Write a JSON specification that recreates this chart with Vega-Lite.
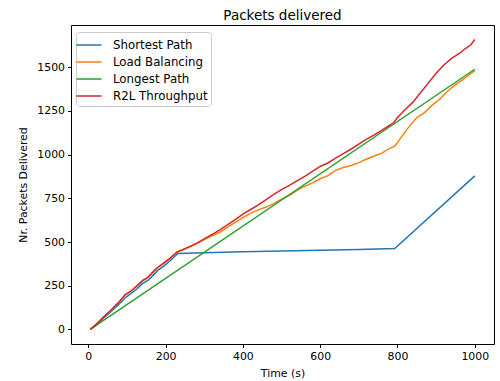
{
  "$schema": "https://vega.github.io/schema/vega-lite/v6.json",
  "autosize": "none",
  "width": 423,
  "height": 319,
  "padding": {"left": 71, "top": 25, "right": 6, "bottom": 37},
  "background": "white",
  "title": {"text": "Packets delivered", "fontSize": 13.5, "font": "DejaVu Sans", "fontWeight": "normal", "color": "black", "offset": 3},
  "data": {"values": [
    {"t": 5, "v": 0, "s": "Shortest Path"},
    {"t": 20, "v": 24, "s": "Shortest Path"},
    {"t": 40, "v": 66, "s": "Shortest Path"},
    {"t": 60, "v": 104, "s": "Shortest Path"},
    {"t": 80, "v": 146, "s": "Shortest Path"},
    {"t": 95, "v": 180, "s": "Shortest Path"},
    {"t": 110, "v": 205, "s": "Shortest Path"},
    {"t": 125, "v": 230, "s": "Shortest Path"},
    {"t": 140, "v": 262, "s": "Shortest Path"},
    {"t": 155, "v": 282, "s": "Shortest Path"},
    {"t": 170, "v": 315, "s": "Shortest Path"},
    {"t": 180, "v": 338, "s": "Shortest Path"},
    {"t": 195, "v": 362, "s": "Shortest Path"},
    {"t": 210, "v": 390, "s": "Shortest Path"},
    {"t": 232, "v": 435, "s": "Shortest Path"},
    {"t": 300, "v": 439, "s": "Shortest Path"},
    {"t": 400, "v": 444, "s": "Shortest Path"},
    {"t": 500, "v": 449, "s": "Shortest Path"},
    {"t": 600, "v": 453, "s": "Shortest Path"},
    {"t": 700, "v": 458, "s": "Shortest Path"},
    {"t": 793, "v": 463, "s": "Shortest Path"},
    {"t": 1000, "v": 878, "s": "Shortest Path"},
    {"t": 5, "v": 0, "s": "Load Balancing"},
    {"t": 20, "v": 28, "s": "Load Balancing"},
    {"t": 40, "v": 71, "s": "Load Balancing"},
    {"t": 60, "v": 112, "s": "Load Balancing"},
    {"t": 80, "v": 157, "s": "Load Balancing"},
    {"t": 95, "v": 196, "s": "Load Balancing"},
    {"t": 110, "v": 218, "s": "Load Balancing"},
    {"t": 125, "v": 246, "s": "Load Balancing"},
    {"t": 140, "v": 277, "s": "Load Balancing"},
    {"t": 155, "v": 298, "s": "Load Balancing"},
    {"t": 170, "v": 333, "s": "Load Balancing"},
    {"t": 180, "v": 354, "s": "Load Balancing"},
    {"t": 195, "v": 378, "s": "Load Balancing"},
    {"t": 210, "v": 403, "s": "Load Balancing"},
    {"t": 230, "v": 442, "s": "Load Balancing"},
    {"t": 250, "v": 460, "s": "Load Balancing"},
    {"t": 265, "v": 475, "s": "Load Balancing"},
    {"t": 280, "v": 490, "s": "Load Balancing"},
    {"t": 300, "v": 514, "s": "Load Balancing"},
    {"t": 320, "v": 535, "s": "Load Balancing"},
    {"t": 340, "v": 556, "s": "Load Balancing"},
    {"t": 360, "v": 584, "s": "Load Balancing"},
    {"t": 380, "v": 612, "s": "Load Balancing"},
    {"t": 400, "v": 640, "s": "Load Balancing"},
    {"t": 420, "v": 665, "s": "Load Balancing"},
    {"t": 440, "v": 684, "s": "Load Balancing"},
    {"t": 460, "v": 700, "s": "Load Balancing"},
    {"t": 480, "v": 720, "s": "Load Balancing"},
    {"t": 500, "v": 745, "s": "Load Balancing"},
    {"t": 520, "v": 766, "s": "Load Balancing"},
    {"t": 540, "v": 795, "s": "Load Balancing"},
    {"t": 560, "v": 818, "s": "Load Balancing"},
    {"t": 580, "v": 838, "s": "Load Balancing"},
    {"t": 600, "v": 862, "s": "Load Balancing"},
    {"t": 620, "v": 880, "s": "Load Balancing"},
    {"t": 640, "v": 910, "s": "Load Balancing"},
    {"t": 660, "v": 926, "s": "Load Balancing"},
    {"t": 680, "v": 938, "s": "Load Balancing"},
    {"t": 700, "v": 954, "s": "Load Balancing"},
    {"t": 720, "v": 975, "s": "Load Balancing"},
    {"t": 740, "v": 992, "s": "Load Balancing"},
    {"t": 760, "v": 1008, "s": "Load Balancing"},
    {"t": 775, "v": 1030, "s": "Load Balancing"},
    {"t": 793, "v": 1048, "s": "Load Balancing"},
    {"t": 810, "v": 1100, "s": "Load Balancing"},
    {"t": 830, "v": 1160, "s": "Load Balancing"},
    {"t": 850, "v": 1212, "s": "Load Balancing"},
    {"t": 870, "v": 1240, "s": "Load Balancing"},
    {"t": 890, "v": 1283, "s": "Load Balancing"},
    {"t": 910, "v": 1318, "s": "Load Balancing"},
    {"t": 930, "v": 1364, "s": "Load Balancing"},
    {"t": 950, "v": 1400, "s": "Load Balancing"},
    {"t": 970, "v": 1430, "s": "Load Balancing"},
    {"t": 985, "v": 1455, "s": "Load Balancing"},
    {"t": 1000, "v": 1480, "s": "Load Balancing"},
    {"t": 5, "v": 0, "s": "Longest Path"},
    {"t": 1000, "v": 1488, "s": "Longest Path"},
    {"t": 5, "v": 0, "s": "R2L Throughput"},
    {"t": 20, "v": 29, "s": "R2L Throughput"},
    {"t": 40, "v": 72, "s": "R2L Throughput"},
    {"t": 60, "v": 114, "s": "R2L Throughput"},
    {"t": 80, "v": 159, "s": "R2L Throughput"},
    {"t": 95, "v": 198, "s": "R2L Throughput"},
    {"t": 110, "v": 220, "s": "R2L Throughput"},
    {"t": 125, "v": 248, "s": "R2L Throughput"},
    {"t": 140, "v": 279, "s": "R2L Throughput"},
    {"t": 155, "v": 300, "s": "R2L Throughput"},
    {"t": 170, "v": 335, "s": "R2L Throughput"},
    {"t": 180, "v": 356, "s": "R2L Throughput"},
    {"t": 195, "v": 380, "s": "R2L Throughput"},
    {"t": 210, "v": 405, "s": "R2L Throughput"},
    {"t": 230, "v": 444, "s": "R2L Throughput"},
    {"t": 250, "v": 462, "s": "R2L Throughput"},
    {"t": 265, "v": 477, "s": "R2L Throughput"},
    {"t": 280, "v": 492, "s": "R2L Throughput"},
    {"t": 300, "v": 518, "s": "R2L Throughput"},
    {"t": 320, "v": 543, "s": "R2L Throughput"},
    {"t": 340, "v": 570, "s": "R2L Throughput"},
    {"t": 360, "v": 598, "s": "R2L Throughput"},
    {"t": 380, "v": 628, "s": "R2L Throughput"},
    {"t": 400, "v": 660, "s": "R2L Throughput"},
    {"t": 420, "v": 686, "s": "R2L Throughput"},
    {"t": 440, "v": 712, "s": "R2L Throughput"},
    {"t": 460, "v": 742, "s": "R2L Throughput"},
    {"t": 480, "v": 772, "s": "R2L Throughput"},
    {"t": 500, "v": 800, "s": "R2L Throughput"},
    {"t": 520, "v": 824, "s": "R2L Throughput"},
    {"t": 540, "v": 850, "s": "R2L Throughput"},
    {"t": 560, "v": 876, "s": "R2L Throughput"},
    {"t": 580, "v": 904, "s": "R2L Throughput"},
    {"t": 600, "v": 932, "s": "R2L Throughput"},
    {"t": 620, "v": 952, "s": "R2L Throughput"},
    {"t": 640, "v": 980, "s": "R2L Throughput"},
    {"t": 660, "v": 1006, "s": "R2L Throughput"},
    {"t": 680, "v": 1032, "s": "R2L Throughput"},
    {"t": 700, "v": 1060, "s": "R2L Throughput"},
    {"t": 720, "v": 1088, "s": "R2L Throughput"},
    {"t": 740, "v": 1113, "s": "R2L Throughput"},
    {"t": 760, "v": 1140, "s": "R2L Throughput"},
    {"t": 780, "v": 1168, "s": "R2L Throughput"},
    {"t": 790, "v": 1182, "s": "R2L Throughput"},
    {"t": 800, "v": 1212, "s": "R2L Throughput"},
    {"t": 820, "v": 1258, "s": "R2L Throughput"},
    {"t": 840, "v": 1300, "s": "R2L Throughput"},
    {"t": 860, "v": 1355, "s": "R2L Throughput"},
    {"t": 880, "v": 1410, "s": "R2L Throughput"},
    {"t": 900, "v": 1465, "s": "R2L Throughput"},
    {"t": 920, "v": 1512, "s": "R2L Throughput"},
    {"t": 940, "v": 1550, "s": "R2L Throughput"},
    {"t": 960, "v": 1578, "s": "R2L Throughput"},
    {"t": 975, "v": 1605, "s": "R2L Throughput"},
    {"t": 990, "v": 1628, "s": "R2L Throughput"},
    {"t": 1000, "v": 1658, "s": "R2L Throughput"}
  ]},
  "mark": {"type": "line", "strokeWidth": 1.5, "clip": true},
  "encoding": {
    "x": {"field": "t", "type": "quantitative", "title": "Time (s)",
      "scale": {"domain": [-44.75, 1049.75], "nice": false, "zero": false},
      "axis": {"values": [0, 200, 400, 600, 800, 1000], "format": "d"}},
    "y": {"field": "v", "type": "quantitative", "title": "Nr. Packets Delivered",
      "scale": {"domain": [-83, 1741], "nice": false, "zero": false},
      "axis": {"values": [0, 250, 500, 750, 1000, 1250, 1500], "format": "d"}},
    "color": {"field": "s", "type": "nominal",
      "scale": {"domain": ["Shortest Path", "Load Balancing", "Longest Path", "R2L Throughput"],
                "range": ["#1f77b4", "#ff7f0e", "#2ca02c", "#d62728"]},
      "legend": {"title": null, "orient": "none", "legendX": 5, "legendY": 7, "padding": 3,
        "strokeColor": "#cccccc", "fillColor": "white", "cornerRadius": 3,
        "symbolType": "M-1.4,0H1.4", "symbolSize": 324, "symbolStrokeWidth": 1.5,
        "labelFontSize": 11.8, "labelFont": "DejaVu Sans", "labelColor": "black",
        "rowPadding": 0, "labelOffset": 14}}
  },
  "config": {
    "view": {"stroke": "black", "strokeWidth": 1},
    "axis": {"grid": false, "domain": false, "tickColor": "black", "tickSize": 3.5,
      "labelFont": "DejaVu Sans", "labelFontSize": 10.9, "labelColor": "black", "labelPadding": 3,
      "titleFont": "DejaVu Sans", "titleFontSize": 10.9, "titleFontWeight": "normal", "titleColor": "black"},
    "axisX": {"titlePadding": 6},
    "axisY": {"titlePadding": 8}
  }
}
